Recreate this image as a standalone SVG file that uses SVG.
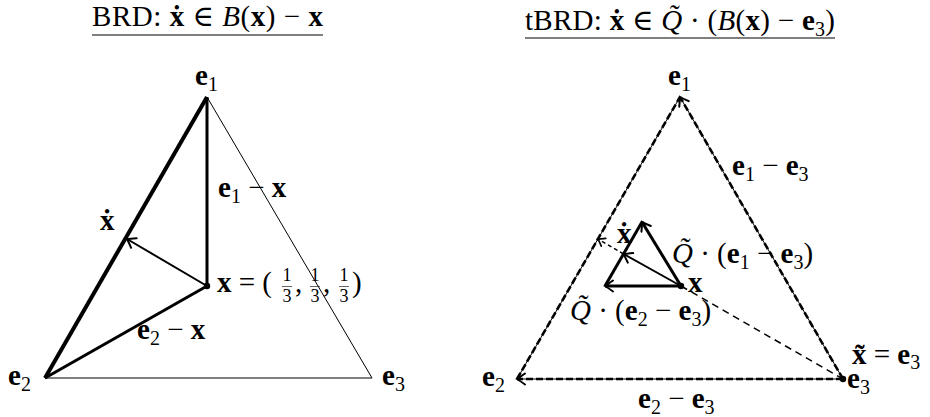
<svg xmlns="http://www.w3.org/2000/svg" width="930" height="417" viewBox="0 0 930 417">
<style>
.t{font-family:"Liberation Serif","DejaVu Serif",serif;font-size:29px;fill:#000}
.b{font-weight:bold}
.i{font-style:italic}
.s{font-size:20px}
.f{font-size:18px}
.thin{stroke:#000;stroke-width:1;fill:none}
.ul{stroke:#555;stroke-width:1.3}
.dot{fill:#000}
.fb{stroke:#222;stroke-width:0.7}
</style>
<defs>
<marker id="ah" markerUnits="userSpaceOnUse" markerWidth="24" markerHeight="24" viewBox="-12 -12 24 24" refX="0" refY="0" orient="auto">
<path d="M-8,-5.5 Q-2.5,-1.5 0,0 Q-2.5,1.5 -8,5.5" fill="none" stroke="#000" stroke-width="2" stroke-linecap="round"/>
</marker>
<marker id="ahs" markerUnits="userSpaceOnUse" markerWidth="24" markerHeight="24" viewBox="-12 -12 24 24" refX="0" refY="0" orient="auto">
<path d="M-6.5,-4.5 Q-2,-1.2 0,0 Q-2,1.2 -6.5,4.5" fill="none" stroke="#000" stroke-width="1.6" stroke-linecap="round"/>
</marker>
</defs>

<g id="left-title">
<text class="t" x="92" y="26" textLength="231" lengthAdjust="spacing">BRD: <tspan class="b">ẋ</tspan> ∈ <tspan class="i">B</tspan>(<tspan class="b">x</tspan>) − <tspan class="b">x</tspan></text>
<line class="ul" x1="92" y1="35" x2="323" y2="35"/>
</g>
<g id="right-title">
<text class="t" x="525" y="30" textLength="310" lengthAdjust="spacing">tBRD: <tspan class="b">ẋ</tspan> ∈ <tspan class="i">Q̃</tspan> · (<tspan class="i">B</tspan>(<tspan class="b">x</tspan>) − <tspan class="b">e</tspan><tspan class="s" dy="6">3</tspan><tspan dy="-6">)</tspan></text>
<line class="ul" x1="525" y1="38" x2="835" y2="38"/>
</g>

<g id="left-simplex">
<polygon class="thin" points="207,97 45,378 372,378"/>
</g>
<g id="right-simplex">
<polygon class="thin" points="680,97 517,379 843,379"/>
</g>

<g id="connectors">
<line x1="207" y1="97" x2="45" y2="378" stroke="#000" stroke-width="4"/>
<line x1="207" y1="97" x2="207" y2="286" stroke="#000" stroke-width="3"/>
<line x1="207" y1="286" x2="45" y2="378" stroke="#000" stroke-width="3"/>
<line x1="207" y1="286" x2="127" y2="239" stroke="#000" stroke-width="2" marker-end="url(#ah)"/>
<line x1="517" y1="379" x2="680" y2="97" stroke="#000" stroke-width="2.6" stroke-dasharray="7 3"/>
<line x1="843" y1="379" x2="680" y2="97" stroke="#000" stroke-width="2.6" stroke-dasharray="7 3" marker-end="url(#ah)"/>
<line x1="843" y1="379" x2="517" y2="379" stroke="#000" stroke-width="2.6" stroke-dasharray="7 3" marker-end="url(#ah)"/>
<line x1="681" y1="286" x2="843" y2="379" stroke="#000" stroke-width="1.5" stroke-dasharray="7 5"/>
<line x1="605" y1="286" x2="642" y2="222" stroke="#000" stroke-width="3"/>
<line x1="681" y1="286" x2="605" y2="286" stroke="#000" stroke-width="3" marker-end="url(#ah)"/>
<line x1="681" y1="286" x2="642" y2="222" stroke="#000" stroke-width="3" marker-end="url(#ah)"/>
<line x1="681" y1="286" x2="623.5" y2="254" stroke="#000" stroke-width="2" marker-end="url(#ah)"/>
<line x1="623.5" y1="254" x2="598" y2="239" stroke="#000" stroke-width="1.5" stroke-dasharray="4 3" marker-end="url(#ahs)"/>
</g>

<g id="node-left-x">
<circle class="dot" cx="207" cy="286" r="3.2"/>
<text class="t" x="217" y="292"><tspan class="b">x</tspan> = (</text>
<text class="t f" x="287" y="281" text-anchor="middle">1</text>
<line class="fb" x1="282" y1="286.5" x2="292" y2="286.5"/>
<text class="t f" x="287" y="302" text-anchor="middle">3</text>
<text class="t" x="295" y="292">,</text>
<text class="t f" x="315" y="281" text-anchor="middle">1</text>
<line class="fb" x1="310" y1="286.5" x2="320" y2="286.5"/>
<text class="t f" x="315" y="302" text-anchor="middle">3</text>
<text class="t" x="323" y="292">,</text>
<text class="t f" x="344" y="281" text-anchor="middle">1</text>
<line class="fb" x1="339" y1="286.5" x2="349" y2="286.5"/>
<text class="t f" x="344" y="302" text-anchor="middle">3</text>
<text class="t" x="352" y="292">)</text>
</g>
<g id="node-left-e1"><text class="t" x="195" y="85"><tspan class="b">e</tspan><tspan class="s" dy="6">1</tspan></text></g>
<g id="node-left-e2"><text class="t" x="8" y="385"><tspan class="b">e</tspan><tspan class="s" dy="6">2</tspan></text></g>
<g id="node-left-e3"><text class="t" x="382" y="385"><tspan class="b">e</tspan><tspan class="s" dy="6">3</tspan></text></g>
<g id="label-left-e1x"><text class="t" x="218" y="197"><tspan class="b">e</tspan><tspan class="s" dy="6">1</tspan><tspan dy="-6"> − </tspan><tspan class="b">x</tspan></text></g>
<g id="label-left-e2x"><text class="t" x="137" y="339"><tspan class="b">e</tspan><tspan class="s" dy="6">2</tspan><tspan dy="-6"> − </tspan><tspan class="b">x</tspan></text></g>
<g id="label-left-xdot"><text class="t b" x="100" y="230">ẋ</text></g>

<g id="node-right-x">
<circle class="dot" cx="681" cy="286" r="3.2"/>
<text class="t b" x="688" y="292">x</text>
</g>
<g id="node-right-e3">
<circle class="dot" cx="843" cy="379" r="3.2"/>
<text class="t" x="847" y="388"><tspan class="b">e</tspan><tspan class="s" dy="6">3</tspan></text>
<text class="t" x="852" y="364"><tspan class="b">x̃</tspan> = <tspan class="b">e</tspan><tspan class="s" dy="5">3</tspan></text>
</g>
<g id="node-right-e1"><text class="t" x="668" y="85"><tspan class="b">e</tspan><tspan class="s" dy="6">1</tspan></text></g>
<g id="node-right-e2"><text class="t" x="482" y="386"><tspan class="b">e</tspan><tspan class="s" dy="6">2</tspan></text></g>
<g id="label-right-e1e3"><text class="t" x="732" y="175"><tspan class="b">e</tspan><tspan class="s" dy="6">1</tspan><tspan dy="-6"> − </tspan><tspan class="b">e</tspan><tspan class="s" dy="6">3</tspan></text></g>
<g id="label-right-e2e3"><text class="t" x="638" y="408"><tspan class="b">e</tspan><tspan class="s" dy="6">2</tspan><tspan dy="-6"> − </tspan><tspan class="b">e</tspan><tspan class="s" dy="6">3</tspan></text></g>
<g id="label-right-q1"><text class="t" x="672" y="263"><tspan class="i">Q̃</tspan> · (<tspan class="b">e</tspan><tspan class="s" dy="6">1</tspan><tspan dy="-6"> − </tspan><tspan class="b">e</tspan><tspan class="s" dy="6">3</tspan><tspan dy="-6">)</tspan></text></g>
<g id="label-right-q2"><text class="t" x="570" y="320"><tspan class="i">Q̃</tspan> · (<tspan class="b">e</tspan><tspan class="s" dy="6">2</tspan><tspan dy="-6"> − </tspan><tspan class="b">e</tspan><tspan class="s" dy="6">3</tspan><tspan dy="-6">)</tspan></text></g>
<g id="label-right-xdot"><text class="t b" x="617" y="243">ẋ</text></g>
</svg>
